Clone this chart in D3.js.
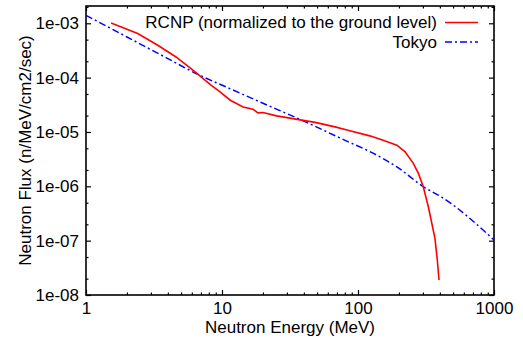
<!DOCTYPE html>
<html>
<head>
<meta charset="utf-8">
<script src="https://cdn.jsdelivr.net/npm/d3@7"></script>
<style>
  body { margin: 0; background: #fff; }
  text { font-family: "Liberation Sans", Arial, sans-serif; }
</style>
</head>
<body>
<div id="chart"></div>
<script>
// data (MeV, n/MeV/cm2/sec)
let rcnpEnergy = [1.53, 2.40, 3.37, 4.59, 5.92, 6.77, 8.30, 9.67, 11.5, 14.3, 16.9, 18.4, 20.0, 25.2, 38.5, 48.3, 67.8, 84.4, 122, 153, 193, 222, 255, 278, 302, 329, 368, 383, 394];
let rcnpFlux = [1.01e-3, 6.47e-4, 3.94e-4, 2.40e-4, 1.47e-4, 1.11e-4, 7.25e-5, 5.46e-5, 3.84e-5, 2.89e-5, 2.62e-5, 2.25e-5, 2.28e-5, 1.98e-5, 1.65e-5, 1.50e-5, 1.24e-5, 1.08e-5, 8.48e-6, 7.07e-6, 5.72e-6, 4.31e-6, 2.64e-6, 1.73e-6, 9.8e-7, 4.2e-7, 1.10e-7, 4.4e-8, 1.89e-8];

let tokyoEnergy = [1, 2, 4, 6.44, 10.7, 20, 37.5, 85, 122, 193, 311, 401, 1000];
let tokyoFlux = [1.40e-3, 5.6e-4, 2.24e-4, 1.19e-4, 6.75e-5, 3.38e-5, 1.70e-5, 6.58e-6, 4.37e-6, 2.28e-6, 9.4e-7, 6.6e-7, 1.03e-7];

let xTicks = [1, 10, 100, 1000];
let yTicks = [1e-8, 1e-7, 1e-6, 1e-5, 1e-4, 1e-3];
let seriesNames = ["RCNP (normalized to the ground level)", "Tokyo"];

let margin = {top: 6, right: 29, bottom: 47, left: 86};
let width = 523 - margin.left - margin.right;
let height = 342 - margin.top - margin.bottom;

let svg = d3.select("#chart")
    .append("svg")
        .attr("width", width + margin.left + margin.right)
        .attr("height", height + margin.top + margin.bottom)
    .append("g")
        .attr("transform", "translate(" + margin.left + "," + margin.top + ")");

let x = d3.scaleLog().domain([1, 1000]).range([0, width]);
let y = d3.scaleLog().domain([1e-8, 2.08e-3]).range([height, 0]);

// minor ticks
let xMinor = [];
[1, 10, 100].forEach(function(d) { for (let k = 2; k < 10; k++) xMinor.push(d * k); });
let yMinor = [];
[1e-8, 1e-7, 1e-6, 1e-5, 1e-4, 1e-3].forEach(function(d) { yMinor.push(d * 2); if (d * 5 < 2.08e-3) yMinor.push(d * 5); });

function styleAxis(g) {
    g.select(".domain").remove();
    g.selectAll("line").attr("stroke", "#000").attr("stroke-width", 1.2);
    g.selectAll("text").attr("font-size", "17px").attr("fill", "#000");
}

// X axis
svg.append("g")
    .attr("transform", "translate(0," + height + ")")
    .call(d3.axisBottom(x).tickValues(xTicks).tickFormat(d3.format("d")).tickSizeInner(-5).tickSizeOuter(0).tickPadding(7))
    .call(styleAxis);
svg.append("g")
    .attr("transform", "translate(0," + height + ")")
    .call(d3.axisBottom(x).tickValues(xMinor).tickFormat("").tickSizeInner(-2.5).tickSizeOuter(0))
    .call(styleAxis);
svg.append("g")
    .call(d3.axisTop(x).tickValues(xTicks).tickFormat("").tickSizeInner(-5).tickSizeOuter(0))
    .call(styleAxis);
svg.append("g")
    .call(d3.axisTop(x).tickValues(xMinor).tickFormat("").tickSizeInner(-2.5).tickSizeOuter(0))
    .call(styleAxis);

// Y axis
svg.append("g")
    .call(d3.axisLeft(y).tickValues(yTicks).tickFormat(function(d) { return d3.format(".0e")(d).replace(/e-(\d)$/, "e-0$1"); }).tickSizeInner(-5).tickSizeOuter(0).tickPadding(7))
    .call(styleAxis);
svg.append("g")
    .call(d3.axisLeft(y).tickValues(yMinor).tickFormat("").tickSizeInner(-2.5).tickSizeOuter(0))
    .call(styleAxis);
svg.append("g")
    .attr("transform", "translate(" + width + ",0)")
    .call(d3.axisRight(y).tickValues(yTicks).tickFormat("").tickSizeInner(-5).tickSizeOuter(0))
    .call(styleAxis);
svg.append("g")
    .attr("transform", "translate(" + width + ",0)")
    .call(d3.axisRight(y).tickValues(yMinor).tickFormat("").tickSizeInner(-2.5).tickSizeOuter(0))
    .call(styleAxis);

// frame
svg.append("rect")
    .attr("x", 0).attr("y", 0)
    .attr("width", width).attr("height", height)
    .attr("fill", "none")
    .attr("stroke", "#000")
    .attr("stroke-width", 1.6);

// axis titles
svg.append("text")
    .attr("x", width / 2)
    .attr("y", height + 38)
    .attr("text-anchor", "middle")
    .attr("font-size", "17px")
    .text("Neutron Energy (MeV)");

svg.append("text")
    .attr("transform", "translate(" + (31 - margin.left) + "," + (height / 2) + ")rotate(-90)")
    .attr("text-anchor", "middle")
    .attr("font-size", "17px")
    .text("Neutron Flux (n/MeV/cm2/sec)");

// lines
let rcnpData = rcnpEnergy.map(function(d, i) { return [d, rcnpFlux[i]]; });
let tokyoData = tokyoEnergy.map(function(d, i) { return [d, tokyoFlux[i]]; });

svg.append("path")
    .datum(tokyoData)
    .attr("fill", "none")
    .attr("stroke", "#0000ff")
    .attr("stroke-width", 1.5)
    .attr("stroke-dasharray", "7,3,2,3")
    .attr("d", d3.line().curve(d3.curveMonotoneX)
        .x(function(d) { return x(d[0]); })
        .y(function(d) { return y(d[1]); }));

svg.append("path")
    .datum(rcnpData)
    .attr("fill", "none")
    .attr("stroke", "#ff0000")
    .attr("stroke-width", 1.6)
    .attr("d", d3.line()
        .x(function(d) { return x(d[0]); })
        .y(function(d) { return y(d[1]); }));

// legend
let legendColors = ["#ff0000", "#0000ff"];
let legendDash = [null, "7,3,2,3"];
let legend = svg.selectAll("legend")
    .data(seriesNames)
    .enter()
    .append("g")
    .attr("transform", function(d, i) { return "translate(0," + (16.5 + i * 19.5) + ")"; });

legend.append("text")
    .attr("x", 351)
    .attr("y", 0)
    .attr("dy", "0.33em")
    .attr("text-anchor", "end")
    .attr("font-size", "17px")
    .text(function(d) { return d; });

legend.append("line")
    .attr("x1", 359).attr("x2", 392)
    .attr("y1", 0).attr("y2", 0)
    .attr("stroke", function(d, i) { return legendColors[i]; })
    .attr("stroke-width", 1.5)
    .attr("stroke-dasharray", function(d, i) { return legendDash[i]; });
</script>
</body>
</html>
